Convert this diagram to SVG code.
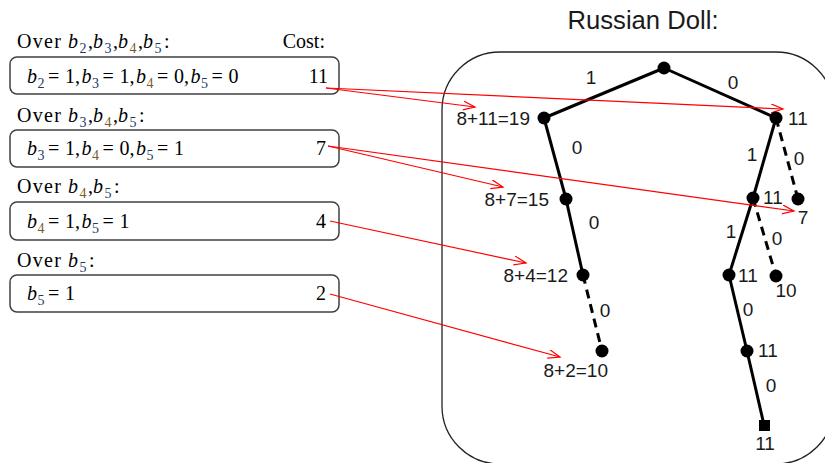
<svg xmlns="http://www.w3.org/2000/svg" width="825" height="463" viewBox="0 0 825 463">
<style>
.box{fill:#fff;stroke:#404040;stroke-width:1.5}
.serif{font-family:"Liberation Serif","DejaVu Serif",serif;font-size:20px;fill:#000}
.it{font-style:italic}
.sub{font-size:14px;fill:#1f3864}
.sub4{font-size:14px;fill:#7a5a2a}
.sans{font-family:"Liberation Sans","Open Sans",sans-serif;font-size:19px;fill:#1a1a1a}
.edge{stroke:#000;stroke-width:3;fill:none}
.dash{stroke:#000;stroke-width:3;fill:none;stroke-dasharray:9,6}
.red{stroke:#ff0000;stroke-width:1.2;fill:none}
.dot{fill:#000}
</style>
<defs>
<marker id="arr" markerUnits="userSpaceOnUse" markerWidth="14" markerHeight="10" refX="12" refY="4.5" orient="auto">
<path d="M0,0 L12,4.5 L0,9" fill="none" stroke="#ff0000" stroke-width="1.2"/>
</marker>
</defs>
<rect width="825" height="463" fill="#fff"/>

<g id="doll-frame">
<rect x="442" y="52" width="392" height="412" rx="58" ry="58" fill="none" stroke="#222" stroke-width="1.3"/>
<text x="643" y="29" text-anchor="middle" font-family="Liberation Sans,Open Sans,sans-serif" font-size="25" fill="#1a1a1a" textLength="151" lengthAdjust="spacingAndGlyphs">Russian Doll:</text>
</g>

<g id="left-labels" class="serif">
<text x="17" y="48" textLength="44" lengthAdjust="spacing">Over</text>
<text y="48"><tspan class="it" x="68">b</tspan><tspan class="sub" x="79.5" y="53">2</tspan><tspan x="88" y="48">,</tspan><tspan class="it" x="93">b</tspan><tspan class="sub" x="104.5" y="53">3</tspan><tspan x="113" y="48">,</tspan><tspan class="it" x="118">b</tspan><tspan class="sub4" x="129.5" y="53">4</tspan><tspan x="138" y="48">,</tspan><tspan class="it" x="143">b</tspan><tspan class="sub" x="154.5" y="53">5</tspan><tspan x="164" y="48">:</tspan></text>
<text x="325" y="48" text-anchor="end">Cost:</text>

<text x="17" y="122" textLength="44" lengthAdjust="spacing">Over</text>
<text y="122"><tspan class="it" x="68">b</tspan><tspan class="sub" x="79.5" y="127">3</tspan><tspan x="88" y="122">,</tspan><tspan class="it" x="93">b</tspan><tspan class="sub4" x="104.5" y="127">4</tspan><tspan x="113" y="122">,</tspan><tspan class="it" x="118">b</tspan><tspan class="sub" x="129.5" y="127">5</tspan><tspan x="139" y="122">:</tspan></text>

<text x="17" y="193" textLength="44" lengthAdjust="spacing">Over</text>
<text y="193"><tspan class="it" x="68">b</tspan><tspan class="sub4" x="79.5" y="198">4</tspan><tspan x="88" y="193">,</tspan><tspan class="it" x="93">b</tspan><tspan class="sub" x="104.5" y="198">5</tspan><tspan x="114" y="193">:</tspan></text>

<text x="17" y="267" textLength="44" lengthAdjust="spacing">Over</text>
<text y="267"><tspan class="it" x="68">b</tspan><tspan class="sub" x="79.5" y="272">5</tspan><tspan x="89" y="267">:</tspan></text>
</g>

<g id="box1">
<rect class="box" x="10" y="57" width="329" height="37" rx="7"/>
<text class="serif" y="83"><tspan class="it" x="27">b</tspan><tspan class="sub" x="37.5" y="88">2</tspan><tspan x="48" y="83">=</tspan><tspan x="65">1,</tspan><tspan class="it" x="81.5">b</tspan><tspan class="sub" x="92" y="88">3</tspan><tspan x="102.5" y="83">=</tspan><tspan x="119.5">1,</tspan><tspan class="it" x="136">b</tspan><tspan class="sub4" x="146.5" y="88">4</tspan><tspan x="157" y="83">=</tspan><tspan x="174">0,</tspan><tspan class="it" x="190.5">b</tspan><tspan class="sub" x="201" y="88">5</tspan><tspan x="211.5" y="83">=</tspan><tspan x="228.5">0</tspan></text>
<text class="serif" x="328" y="83" text-anchor="end">11</text>
</g>
<g id="box2">
<rect class="box" x="10" y="130" width="329" height="37" rx="7"/>
<text class="serif" y="155"><tspan class="it" x="27">b</tspan><tspan class="sub" x="37.5" y="160">3</tspan><tspan x="48" y="155">=</tspan><tspan x="65">1,</tspan><tspan class="it" x="81.5">b</tspan><tspan class="sub4" x="92" y="160">4</tspan><tspan x="102.5" y="155">=</tspan><tspan x="119.5">0,</tspan><tspan class="it" x="136">b</tspan><tspan class="sub" x="146.5" y="160">5</tspan><tspan x="157" y="155">=</tspan><tspan x="174">1</tspan></text>
<text class="serif" x="326" y="155" text-anchor="end">7</text>
</g>
<g id="box3">
<rect class="box" x="10" y="202" width="329" height="38" rx="7"/>
<text class="serif" y="228"><tspan class="it" x="27">b</tspan><tspan class="sub4" x="37.5" y="233">4</tspan><tspan x="48" y="228">=</tspan><tspan x="65">1,</tspan><tspan class="it" x="81.5">b</tspan><tspan class="sub" x="92" y="233">5</tspan><tspan x="102.5" y="228">=</tspan><tspan x="119.5">1</tspan></text>
<text class="serif" x="326" y="228" text-anchor="end">4</text>
</g>
<g id="box4">
<rect class="box" x="10" y="275" width="329" height="37" rx="7"/>
<text class="serif" y="300"><tspan class="it" x="27">b</tspan><tspan class="sub" x="37.5" y="305">5</tspan><tspan x="48" y="300">=</tspan><tspan x="65">1</tspan></text>
<text class="serif" x="326" y="300" text-anchor="end">2</text>
</g>

<g id="connectors">
<line class="edge" x1="664" y1="68" x2="544" y2="118"/>
<line class="edge" x1="664" y1="68" x2="776" y2="118"/>
<line class="edge" x1="544" y1="118" x2="566" y2="199"/>
<line class="edge" x1="566" y1="199" x2="583" y2="275"/>
<line class="dash" x1="583" y1="275" x2="602" y2="351"/>
<line class="edge" x1="776" y1="118" x2="753" y2="198"/>
<line class="dash" x1="776" y1="118" x2="798" y2="199"/>
<line class="edge" x1="753" y1="198" x2="729" y2="275"/>
<line class="dash" x1="753" y1="198" x2="776" y2="276"/>
<line class="edge" x1="729" y1="275" x2="747" y2="351"/>
<line class="edge" x1="747" y1="351" x2="764" y2="425"/>
<g class="sans">
<text x="591" y="84" text-anchor="middle">1</text>
<text x="733" y="89" text-anchor="middle">0</text>
<text x="577" y="154" text-anchor="middle">0</text>
<text x="752" y="161" text-anchor="middle">1</text>
<text x="799" y="165" text-anchor="middle">0</text>
<text x="594" y="229" text-anchor="middle">0</text>
<text x="731" y="238" text-anchor="middle">1</text>
<text x="777" y="245" text-anchor="middle">0</text>
<text x="605" y="317" text-anchor="middle">0</text>
<text x="748" y="316" text-anchor="middle">0</text>
<text x="771" y="392" text-anchor="middle">0</text>
</g>
<line class="red" x1="326" y1="88" x2="475" y2="107" marker-end="url(#arr)"/>
<line class="red" x1="326" y1="88" x2="783" y2="109" marker-end="url(#arr)"/>
<line class="red" x1="328" y1="146" x2="503" y2="187" marker-end="url(#arr)"/>
<line class="red" x1="328" y1="146" x2="794" y2="211" marker-end="url(#arr)"/>
<line class="red" x1="330" y1="221" x2="526" y2="263" marker-end="url(#arr)"/>
<line class="red" x1="330" y1="294" x2="560" y2="357" marker-end="url(#arr)"/>
</g>

<g id="n-root"><circle class="dot" cx="664" cy="68" r="6.5"/></g>
<g id="n-19"><circle class="dot" cx="544" cy="118" r="6.5"/><text class="sans" x="530" y="125" text-anchor="end">8+11=19</text></g>
<g id="n-r11"><circle class="dot" cx="776" cy="118" r="6.5"/><text class="sans" x="788" y="125">11</text></g>
<g id="n-15"><circle class="dot" cx="566" cy="199" r="6.5"/><text class="sans" x="549" y="206" text-anchor="end">8+7=15</text></g>
<g id="n-r11b"><circle class="dot" cx="753" cy="198" r="6.5"/><text class="sans" x="763" y="204">11</text></g>
<g id="n-7"><circle class="dot" cx="798" cy="199" r="6.5"/><text class="sans" x="803" y="224" text-anchor="middle">7</text></g>
<g id="n-12"><circle class="dot" cx="583" cy="275" r="6.5"/><text class="sans" x="568" y="282" text-anchor="end">8+4=12</text></g>
<g id="n-r11c"><circle class="dot" cx="729" cy="275" r="6.5"/><text class="sans" x="738" y="282">11</text></g>
<g id="n-10"><circle class="dot" cx="776" cy="276" r="6.5"/><text class="sans" x="786" y="297" text-anchor="middle">10</text></g>
<g id="n-8p2"><circle class="dot" cx="602" cy="351" r="6.5"/><text class="sans" x="608" y="377" text-anchor="end">8+2=10</text></g>
<g id="n-r11d"><circle class="dot" cx="747" cy="351" r="6.5"/><text class="sans" x="758" y="357">11</text></g>
<g id="n-leaf"><rect class="dot" x="759" y="420" width="11" height="11"/><text class="sans" x="765" y="450" text-anchor="middle">11</text></g>
</svg>
